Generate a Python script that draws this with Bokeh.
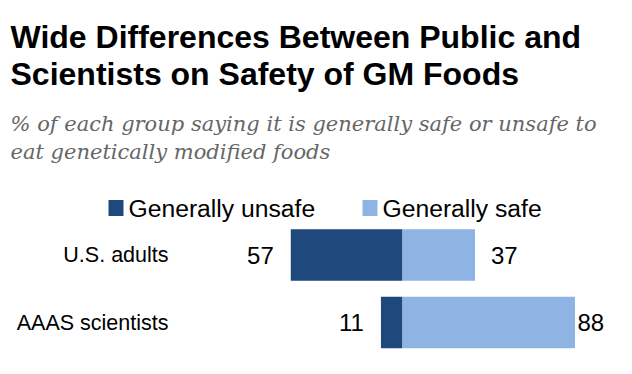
from bokeh.plotting import figure
from bokeh.models import Range1d, Label, ColumnDataSource
from bokeh.embed import file_html
from bokeh.resources import INLINE
from bokeh.core.properties import value

# ---- data ----
categories = ["U.S. adults", "AAAS scientists"]
unsafe = [57, 11]
safe = [37, 88]
series_names = ["Generally unsafe", "Generally safe"]
title_lines = ["Wide Differences Between Public and", "Scientists on Safety of GM Foods"]
subtitle_lines = ["% of each group saying it is generally safe or unsafe to",
                  "eat genetically modified foods"]

# ---- layout / style ----
W, H = 616, 358
ZERO = 402.0
SCALE = 1.96
DARK = "#1F487C"
LIGHT = "#8EB4E3"
SANS = "Liberation Sans"


def px2x(px):
    return (px - ZERO) / SCALE


p = figure(width=W, height=H, output_backend="svg", toolbar_location=None,
           x_range=Range1d(px2x(0), px2x(W)), y_range=Range1d(H, 0),
           x_axis_location=None, y_axis_location=None,
           min_border=0, outline_line_color=None)
p.grid.visible = False
p.background_fill_color = "white"
p.border_fill_color = "white"

ys = [254.5, 322.0]
bar_h = 51.5

src = ColumnDataSource(dict(
    y=ys, cat=categories,
    neg=[-u for u in unsafe], safe=safe,
    ulab=[str(u) for u in unsafe], slab=[str(s) for s in safe],
    soff=[16, 2.5],
))

p.hbar(y="y", left="neg", right=0, height=bar_h, source=src,
       fill_color=DARK, line_color=None)
p.hbar(y="y", left=0, right="safe", height=bar_h, source=src,
       fill_color=LIGHT, line_color=None)

p.text(x="neg", y="y", text="ulab", source=src, x_offset=-17,
       text_align="right", text_baseline="middle",
       text_font=value(SANS), text_font_size="24px", text_color="#000000")
p.text(x="safe", y="y", text="slab", source=src, x_offset="soff",
       text_align="left", text_baseline="middle",
       text_font=value(SANS), text_font_size="24px", text_color="#000000")

p.text(x=px2x(168), y="y", text="cat", source=src,
       text_align="right", text_baseline="middle",
       text_font=value(SANS), text_font_size="21.5px", text_color="#000000")

# title
for i, t in enumerate(title_lines):
    p.add_layout(Label(x=10, y=36 + 37 * i, x_units="screen", y_units="data",
                       text=t, text_font=SANS, text_font_style="bold",
                       text_font_size="32px", text_color="#000000",
                       text_baseline="alphabetic"))
# subtitle
for i, t in enumerate(subtitle_lines):
    p.add_layout(Label(x=10, y=123 + 28 * i, x_units="screen", y_units="data",
                       text=t, text_font="DejaVu Serif", text_font_style="italic",
                       text_font_size="21px", text_color="#666666",
                       text_baseline="alphabetic"))

# legend
leg_y = 207.5
for sq_px, col, name in [(108, DARK, series_names[0]), (362, LIGHT, series_names[1])]:
    p.rect(x=[px2x(sq_px + 7.5)], y=[leg_y], width=15, height=16,
           width_units="screen", height_units="screen",
           fill_color=col, line_color=None)
    p.add_layout(Label(x=sq_px + 20, y=leg_y, x_units="screen", y_units="data",
                       text=name, text_font=SANS, text_font_size="24.7px",
                       text_color="#000000", text_baseline="middle"))

open("out.html", "w").write(file_html(p, INLINE))
